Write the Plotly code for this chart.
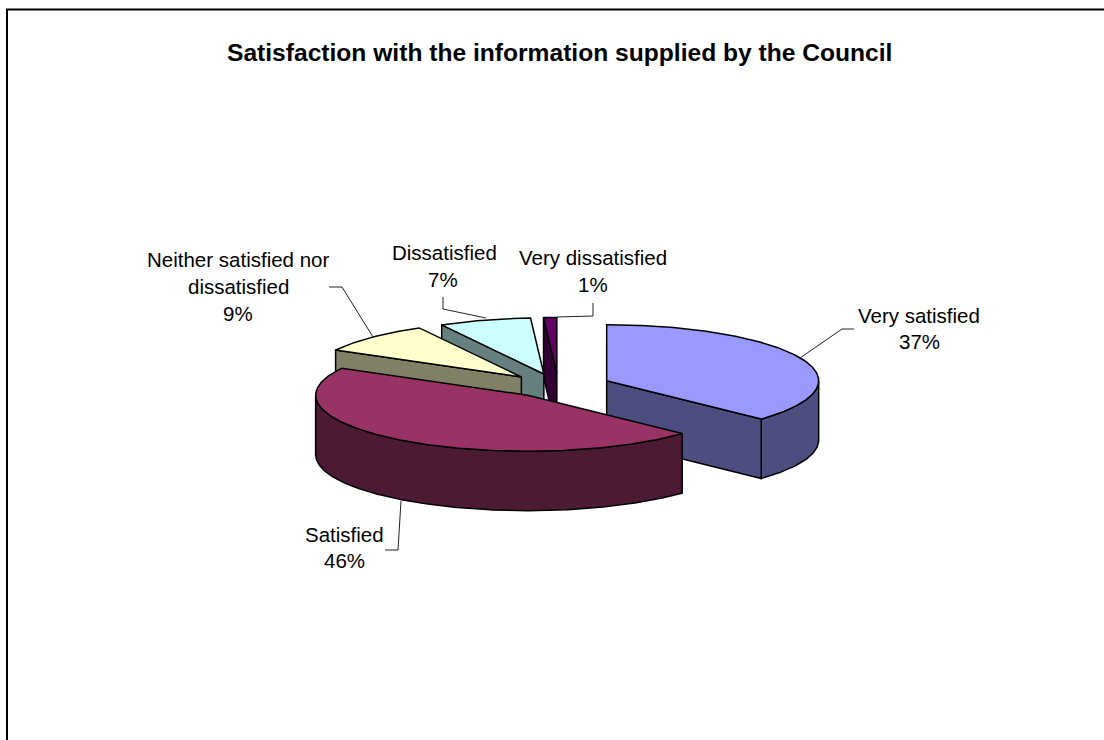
import numpy as np
import plotly.graph_objects as go

# Survey results
categories = ["Very satisfied", "Satisfied", "Neither satisfied nor dissatisfied", "Dissatisfied", "Very dissatisfied"]
percentages = [37, 46, 9, 7, 1]
title_text = "Satisfaction with the information supplied by the Council"

top_colors = ["#9999FF", "#993366", "#FFFFCC", "#CCFFFF", "#660066"]
side_colors = ["#4D4D80", "#4D1A33", "#808066", "#668080", "#330033"]

# Pie projection, in page pixels
CENTER_X, CENTER_Y = 558.5, 385.5
RADIUS_X, RADIUS_Y = 212.0, 56.0
DEPTH = 59.5
EXPLODE_X, EXPLODE_Y = 52.5, 12.0
OUTLINE = dict(color="#000000", width=1.5)
LEADER = dict(color="#222222", width=1)

# Back-to-front painting order of the slices
PAINT_ORDER = [0, 4, 3, 2, 1]

# Label lines: (text, centre x, centre y) per slice
label_lines = {
    0: [(categories[0], 919, 315), ("37%", 919, 341)],
    1: [(categories[1], 344, 534), ("46%", 344, 560)],
    2: [("Neither satisfied nor", 238, 259), ("dissatisfied", 238, 286), ("9%", 238, 313)],
    3: [(categories[3], 444, 252), ("7%", 443, 279)],
    4: [(categories[4], 593, 257), ("1%", 593, 284)],
}

# Leader line paths per slice
leader_x = {0: [800, 842, 854], 1: [401, 398, 385], 2: [329, 342, 373], 3: [443, 443, 486], 4: [593, 593, 557]}
leader_y = {0: [358, 329, 329], 1: [501, 550, 550], 2: [287, 287, 337], 3: [297, 309, 318], 4: [303, 316, 317]}

fig = go.Figure()


def add_poly(xs, ys, color):
    fig.add_trace(go.Scatter(
        x=list(xs), y=list(ys), mode="lines", fill="toself", fillcolor=color,
        line=OUTLINE, hoverinfo="skip", showlegend=False,
    ))


def rim(cx, cy, a0, a1):
    t = np.radians(np.linspace(a0, a1, max(2, int(abs(a1 - a0) * 2) + 2)))
    return cx + RADIUS_X * np.sin(t), cy - RADIUS_Y * np.cos(t)


edges = np.cumsum([0] + percentages) * 3.6

for i in PAINT_ORDER:
    a0, a1 = edges[i], edges[i + 1]
    mid = np.radians((a0 + a1) / 2)
    cx = CENTER_X + EXPLODE_X * np.sin(mid)
    cy = CENTER_Y - EXPLODE_Y * np.cos(mid)

    # Outer wall, only where the rim faces the viewer
    w0, w1 = max(a0, 90), min(a1, 270)
    if w1 > w0:
        rx, ry = rim(cx, cy, w0, w1)
        add_poly(np.r_[rx, rx[::-1], rx[0]], np.r_[ry, ry[::-1] + DEPTH, ry[0]], side_colors[i])

    # Radial cut faces that turn towards the viewer
    for angle, visible in ((a0, np.sin(np.radians(a0)) < -1e-6), (a1, np.sin(np.radians(a1)) > 1e-6)):
        if visible:
            ox = cx + RADIUS_X * np.sin(np.radians(angle))
            oy = cy - RADIUS_Y * np.cos(np.radians(angle))
            add_poly([cx, ox, ox, cx, cx], [cy, oy, oy + DEPTH, cy + DEPTH, cy], side_colors[i])

    # Top face
    rx, ry = rim(cx, cy, a0, a1)
    add_poly(np.r_[cx, rx, cx], np.r_[cy, ry, cy], top_colors[i])

# Leader lines
for i in range(len(categories)):
    fig.add_trace(go.Scatter(x=leader_x[i], y=leader_y[i], mode="lines", line=LEADER,
                             hoverinfo="skip", showlegend=False))

# Chart frame: top and left edges only
fig.add_trace(go.Scatter(x=[7, 7, 1104], y=[740, 9.5, 9.5], mode="lines",
                         line=dict(color="#000000", width=2), hoverinfo="skip", showlegend=False))

annotations = [dict(x=559.5, y=52, text=f"<b>{title_text}</b>", showarrow=False,
                    font=dict(family="Liberation Sans", size=24.6, color="#000000"))]
for lines in label_lines.values():
    for text, x, y in lines:
        annotations.append(dict(x=x, y=y, text=text, showarrow=False,
                                font=dict(family="Liberation Sans", size=20.5, color="#000000")))

fig.update_layout(
    width=1104, height=740, margin=dict(l=0, r=0, t=0, b=0),
    paper_bgcolor="#FFFFFF", plot_bgcolor="#FFFFFF", showlegend=False,
    xaxis=dict(range=[0, 1104], visible=False, fixedrange=True),
    yaxis=dict(range=[740, 0], visible=False, fixedrange=True),
    annotations=annotations,
)

fig.write_html("out.html", config=dict(displayModeBar=False))
